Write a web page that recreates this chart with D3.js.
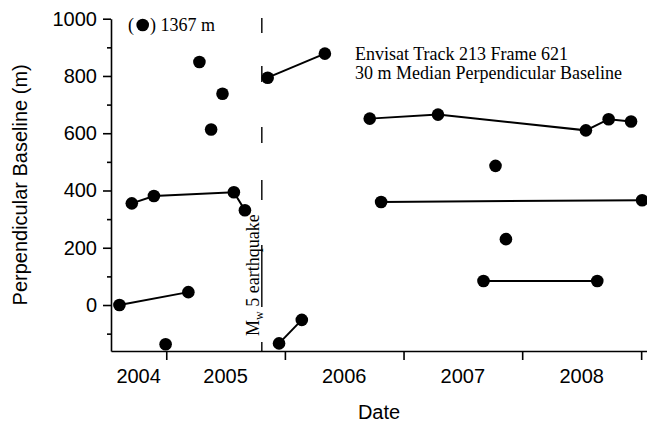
<!DOCTYPE html>
<html><head><meta charset="utf-8">
<script src="https://cdn.jsdelivr.net/npm/d3@7"></script>
<style>body{margin:0;background:#fff} svg{display:block;background:#fff}</style>
</head><body>
<svg id="chart" width="647" height="424"></svg>
<script>
// ---- data (acquisition dates and perpendicular baselines, grouped by connected network) ----
const groupDates = [
  ["2004-09-17","2004-11-24","2005-07-28","2005-08-31"],
  ["2004-08-10","2005-03-10"],
  ["2004-12-30"],
  ["2005-04-13"],
  ["2005-05-19"],
  ["2005-06-23"],
  ["2005-11-09","2006-05-04"],
  ["2005-12-14","2006-02-22"],
  ["2006-09-19","2007-04-17","2008-07-15","2008-09-23","2008-12-01"],
  ["2006-10-24","2009-01-04"],
  ["2007-10-11"],
  ["2007-11-12"],
  ["2007-09-04","2008-08-19"]
];
const groupBaselines = [
  [355, 381, 394, 331],
  [0, 45],
  [-137],
  [849],
  [613],
  [738],
  [794, 878],
  [-134, -52],
  [651, 665, 610, 649, 641],
  [360, 366],
  [486],
  [230],
  [84, 84]
];
const yearLabels = ["2004","2005","2006","2007","2008"];
const yMajorTicks = [0, 200, 400, 600, 800, 1000];
const yMinorTicks = [-100, 100, 300, 500, 700, 900];
const earthquakeDate = "2005-10-22";
const legendValue = "1367 m";
const titleLines = ["Envisat Track 213 Frame 621", "30 m Median Perpendicular Baseline"];
const xTitle = "Date";
const yTitle = "Perpendicular Baseline (m)";

// ---- setup ----
const parse = d3.utcParse("%Y-%m-%d");
const svg = d3.select("#chart");
const sans = "'Liberation Sans', Arial, Helvetica, sans-serif";
const serif = "'Liberation Serif', 'Times New Roman', serif";

const x = d3.scaleUtc()
  .domain([parse("2004-07-15"), parse("2009-01-19")])
  .range([111, 647]);
const y = d3.scaleLinear().domain([-160.6, 1000]).range([351, 18.7]);

// ---- x axis ----
const yearBounds = d3.utcYear.range(parse("2005-01-01"), parse("2009-06-01"));
const gx = svg.append("g").attr("transform", "translate(0,351)")
  .call(d3.axisBottom(x).tickValues(yearBounds).tickFormat("").tickSize(9).tickSizeOuter(0));
gx.select(".domain").attr("stroke-width", 1.6);
gx.selectAll(".tick line").attr("stroke-width", 1.6);

const [d0, d1] = x.domain();
yearLabels.forEach(lbl => {
  const a = parse(lbl + "-01-01"), b = parse((+lbl + 1) + "-01-01");
  const s = x(a < d0 ? d0 : a), e = x(b > d1 ? d1 : b);
  svg.append("text").attr("x", (s + e) / 2).attr("y", 383)
    .attr("text-anchor", "middle").attr("font-family", sans).attr("font-size", 20)
    .text(lbl);
});

// ---- y axis ----
const gy = svg.append("g").attr("transform", "translate(111,0)")
  .call(d3.axisLeft(y).tickValues(yMajorTicks).tickFormat(d3.format("d"))
    .tickSize(8).tickPadding(6).tickSizeOuter(0));
gy.select(".domain").attr("stroke-width", 1.6);
gy.selectAll(".tick line").attr("stroke-width", 1.6);
gy.selectAll(".tick text").attr("font-family", sans).attr("font-size", 20).attr("fill", "#000");
const gym = svg.append("g").attr("transform", "translate(111,0)")
  .call(d3.axisLeft(y).tickValues(yMinorTicks).tickSize(4).tickFormat("").tickSizeOuter(0));
gym.select(".domain").remove();
gym.selectAll(".tick line").attr("stroke-width", 1.6);

// ---- axis titles ----
svg.append("text").attr("x", (x.range()[0] + x.range()[1]) / 2).attr("y", 419)
  .attr("text-anchor", "middle").attr("font-family", sans).attr("font-size", 20).text(xTitle);
svg.append("text").attr("transform", `translate(26.5,${(y.range()[0] + y.range()[1]) / 2}) rotate(-90)`)
  .attr("text-anchor", "middle").attr("font-family", sans).attr("font-size", 20).text(yTitle);

// ---- earthquake marker ----
const qx = x(parse(earthquakeDate));
svg.append("line").attr("x1", qx).attr("x2", qx).attr("y1", 18).attr("y2", 351)
  .attr("stroke", "#000").attr("stroke-width", 1.4)
  .attr("stroke-dasharray", "15,33,16,45,16,37,20,45,62,35,9");
const qt = svg.append("text").attr("transform", `translate(${qx - 3},336) rotate(-90)`)
  .attr("font-family", serif).attr("font-size", 18);
qt.append("tspan").text("M");
qt.append("tspan").attr("font-size", 12).attr("dy", 4).text("w");
qt.append("tspan").attr("dy", -4).text(" 5 earthquake");

// ---- network lines and acquisitions ----
const line = d3.line().x(d => x(d.date)).y(d => y(d.b));
const groups = groupDates.map((ds, i) => ds.map((d, j) => ({date: parse(d), b: groupBaselines[i][j]})));
svg.append("g").selectAll("path").data(groups.filter(g => g.length > 1)).join("path")
  .attr("d", line).attr("fill", "none").attr("stroke", "#000").attr("stroke-width", 2);
svg.append("g").selectAll("circle").data(groups.flat()).join("circle")
  .attr("cx", d => x(d.date)).attr("cy", d => y(d.b)).attr("r", 6.3).attr("fill", "#000");

// ---- legend note ----
svg.append("text").attr("x", 128).attr("y", 31).attr("font-family", serif).attr("font-size", 18).text("(");
svg.append("circle").attr("cx", 142.7).attr("cy", 25).attr("r", 6.3).attr("fill", "#000");
svg.append("text").attr("x", 150).attr("y", 31).attr("font-family", serif).attr("font-size", 18)
  .text(") " + legendValue);

// ---- title block ----
titleLines.forEach((t, i) => {
  svg.append("text").attr("x", 355).attr("y", 60 + i * 19)
    .attr("font-family", serif).attr("font-size", 18).text(t);
});
</script>
</body></html>
